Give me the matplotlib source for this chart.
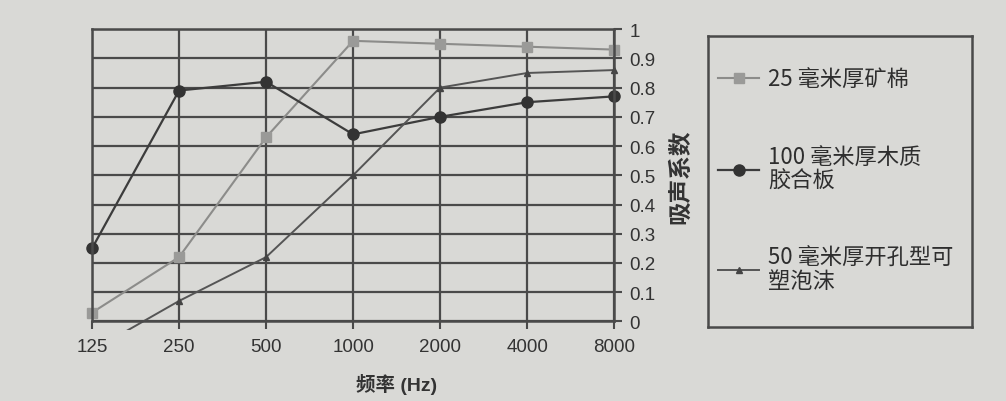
import matplotlib.pyplot as plt
from matplotlib.patches import Rectangle

plt.rcParams['font.family'] = ['Liberation Sans', 'Noto Sans CJK SC', 'DejaVu Sans']

# data
freqs = ['125', '250', '500', '1000', '2000', '4000', '8000']
mineral_wool = [0.03, 0.22, 0.63, 0.96, 0.95, 0.94, 0.93]
plywood = [0.25, 0.79, 0.82, 0.64, 0.70, 0.75, 0.77]
foam = [-0.10, 0.07, 0.22, 0.50, 0.80, 0.85, 0.86]
yticks = [0, 0.1, 0.2, 0.3, 0.4, 0.5, 0.6, 0.7, 0.8, 0.9, 1]
ytick_labels = ['0', '0.1', '0.2', '0.3', '0.4', '0.5', '0.6', '0.7', '0.8', '0.9', '1']
labels = ['25 毫米厚矿棉', '100 毫米厚木质\n胶合板', '50 毫米厚开孔型可\n塑泡沫']

bg = '#d9d9d6'
grid_c = '#4a4a4a'

fig = plt.figure(figsize=(10.06, 4.02), dpi=100, facecolor=bg)
ax = fig.add_axes([0.0915, 0.198, 0.519, 0.727])
ax.set_facecolor(bg)

x = range(len(freqs))
l1, = ax.plot(x, mineral_wool, color='#8c8c8a', lw=1.5, marker='s', ms=7,
              mfc='#9a9a98', mec='#9a9a98', label=labels[0], clip_on=False)
l2, = ax.plot(x, plywood, color='#3c3c3c', lw=1.6, marker='o', ms=8,
              mfc='#333333', mec='#333333', label=labels[1], clip_on=False)
l3, = ax.plot(x, foam, color='#555555', lw=1.4, marker='^', ms=5,
              mfc='#444444', mec='#444444', label=labels[2])

# foam line pokes a little below the x axis
clip = Rectangle((-0.02, -0.03), 1.04, 1.05, transform=ax.transAxes)
l3.set_clip_path(clip)

ax.set_xlim(0, len(freqs) - 1)
ax.set_ylim(0, 1)
ax.set_xticks(list(x))
ax.set_xticklabels(freqs, fontsize=13.5, color='#333333')
ax.set_yticks(yticks)
ax.set_yticklabels(ytick_labels, fontsize=13.5, color='#333333')
ax.yaxis.tick_right()
ax.tick_params(axis='both', length=6, width=1.5, color=grid_c)
ax.tick_params(axis='x', pad=6)
ax.tick_params(axis='y', pad=5)
ax.grid(True, color=grid_c, lw=1.6)
ax.set_axisbelow(True)
for s in ax.spines.values():
    s.set_color(grid_c)
    s.set_linewidth(1.8)

ax.set_xlabel('频率 (Hz)', fontsize=14, fontweight='bold', color='#333333')
ax.xaxis.set_label_coords(0.584, -0.175)
ax.yaxis.set_label_position('right')
ax.set_ylabel('吸声系数', fontsize=17, fontweight='bold', color='#333333')
ax.yaxis.set_label_coords(1.105, 0.5)

# legend box
lax = fig.add_axes([708 / 1006, (402 - 328) / 402, 264 / 1006, 291 / 402])
lax.set_facecolor(bg)
lax.set_xticks([])
lax.set_yticks([])
for s in lax.spines.values():
    s.set_color(grid_c)
    s.set_linewidth(1.8)
leg = lax.legend(handles=[l1, l2, l3], loc='upper left', frameon=False,
                 bbox_to_anchor=(0.038, 0.89), borderpad=0, borderaxespad=0,
                 fontsize=16, labelspacing=2.45, handlelength=1.85,
                 handletextpad=0.4)
for t in leg.get_texts():
    t.set_color('#2e2e2e')
    t.set_fontfamily(['Noto Sans CJK SC', 'DejaVu Sans'])
    t.set_linespacing(1.0)

fig.savefig('out.png', dpi=100, facecolor=bg)
